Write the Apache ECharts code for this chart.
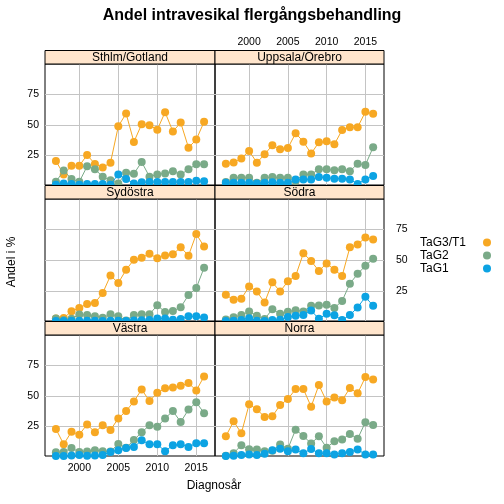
<!DOCTYPE html>
<html><head><meta charset="utf-8">
<script src="https://cdn.jsdelivr.net/npm/echarts@6/dist/echarts.min.js"></script>
<style>html,body{margin:0;padding:0;background:#fff}#c{width:504px;height:504px}</style>
</head><body><div id="c"></div>
<script>
// ---- data ----
const years = [1997,1998,1999,2000,2001,2002,2003,2004,2005,2006,2007,2008,2009,2010,2011,2012,2013,2014,2015,2016];
const regions = ['Sthlm/Gotland','Uppsala/Örebro','Sydöstra','Södra','Västra','Norra'];
const seriesNames = ['TaG3/T1','TaG2','TaG1'];
const xTickValues = [2000,2005,2010,2015];
const yTickValues = [25,50,75];

const tag3Sthlm   = [20.3,9.4,16.5,16.5,25.3,17.9,15.0,19.0,48.8,59.2,36.0,50.5,49.7,46.0,60.3,44.5,51.8,31.3,37.9,52.4];
const tag2Sthlm   = [3.3,12.5,5.7,3.3,16.0,13.6,7.5,4.6,2.0,10.8,10.0,19.5,7.5,9.4,10.2,11.9,9.2,13.5,17.6,17.6];
const tag1Sthlm   = [0.9,2.0,1.5,1.0,1.5,1.5,1.5,1.0,9.4,5.6,2.0,2.9,3.1,3.1,3.1,3.1,3.1,3.1,4.2,3.7];

const tag3Uppsala = [18.2,19.2,22.5,28.6,19.0,25.8,33.3,30.0,31.0,43.0,36.2,26.4,35.7,36.5,34.0,45.8,48.0,48.0,60.6,59.0];
const tag2Uppsala = [3.1,6.7,6.7,6.7,2.6,6.7,7.2,6.7,6.7,4.0,9.4,9.4,13.5,13.5,12.7,13.5,11.9,18.2,17.1,31.6];
const tag1Uppsala = [2.5,2.5,2.5,2.5,2.0,2.5,3.0,2.5,2.5,5.3,5.3,5.3,7.2,6.7,5.9,5.9,5.3,1.5,5.3,8.0];

const tag3Sydost  = [2.8,3.1,8.6,11.3,14.6,15.4,23.4,37.6,31.6,42.3,50.5,52.1,55.4,51.6,54.0,54.9,60.6,53.8,71.3,61.2];
const tag2Sydost  = [2.8,1.5,2.5,6.0,5.5,4.5,3.4,6.2,4.5,1.2,5.5,6.1,6.1,13.5,8.0,8.8,11.8,21.8,27.5,44.0];
const tag1Sydost  = [0.8,0.8,0.9,1.0,0.9,0.9,0.8,1.0,0.9,0.8,1.2,1.3,1.5,2.8,2.8,1.7,2.3,4.5,4.5,3.6];

const tag3Sodra   = [22.0,17.9,18.7,28.8,24.7,15.7,32.1,24.7,32.9,37.3,55.7,49.4,41.4,47.5,42.3,37.3,60.6,62.8,68.6,66.9];
const tag2Sodra   = [2.0,3.8,5.5,8.5,5.0,2.3,10.3,6.5,8.2,9.5,8.5,13.0,13.2,13.8,11.3,17.0,31.0,39.0,45.5,51.3];
const tag1Sodra   = [0.8,0.9,1.5,3.0,1.0,0.8,1.5,1.8,4.0,5.0,5.5,9.2,2.5,6.5,5.3,1.5,5.5,11.7,20.3,13.0];

const tag3Vastra  = [22.8,10.3,20.6,18.2,26.6,20.1,25.8,22.0,31.5,37.5,45.4,55.2,45.7,52.5,56.1,56.9,58.2,60.4,54.4,65.9];
const tag2Vastra  = [3.8,3.9,7.3,4.0,4.4,5.4,4.6,4.4,10.6,7.4,13.8,20.2,25.8,24.6,31.5,37.6,28.5,38.7,44.7,35.8];
const tag1Vastra  = [0.8,0.8,1.2,1.5,1.0,1.2,1.5,4.0,5.5,7.3,8.0,13.5,10.3,10.3,4.6,9.5,10.4,8.0,11.2,11.2];

const tag3Norra   = [16.8,29.1,19.3,43.0,38.9,32.7,33.2,42.4,47.3,55.5,55.5,41.1,58.8,45.4,48.7,46.3,56.3,52.0,65.3,63.4];
const tag2Norra   = [1.0,3.0,9.6,6.2,6.0,4.6,5.0,10.2,6.6,22.3,17.0,11.0,16.8,7.5,12.7,14.3,18.7,14.8,28.4,26.0];
const tag1Norra   = [0.8,1.0,1.5,2.0,1.5,2.5,5.5,6.7,4.5,6.0,3.0,6.5,3.0,3.0,2.0,3.0,4.0,6.0,2.0,2.0];

const panelData = [
  [tag3Sthlm, tag2Sthlm, tag1Sthlm],
  [tag3Uppsala, tag2Uppsala, tag1Uppsala],
  [tag3Sydost, tag2Sydost, tag1Sydost],
  [tag3Sodra, tag2Sodra, tag1Sodra],
  [tag3Vastra, tag2Vastra, tag1Vastra],
  [tag3Norra, tag2Norra, tag1Norra]
];

// ---- layout / style ----
const colors = ['#F7A823', '#7AAA88', '#0CA3E3'];
const FONT = 'Liberation Sans, Arial, sans-serif';
const colLeft = [45, 215], colWidth = [170, 169];
const rowTop = [64, 199, 335], rowHeight = [121, 122, 121];
const stripH = 13.5;

const grids = [], xAxes = [], yAxes = [], series = [], graphics = [];
for (let i = 0; i < 6; i++) {
  const r = Math.floor(i / 2), c = i % 2;
  grids.push({left: colLeft[c], top: rowTop[r], width: colWidth[c], height: rowHeight[r],
    show: true, borderColor: '#000', borderWidth: 1, backgroundColor: 'transparent', containLabel: false});
  const showBottomX = (r === 2 && c === 0);
  const showTopX = (r === 0 && c === 1);
  xAxes.push({type: 'value', gridIndex: i, min: 1995.6, max: 2017.4,
    position: showTopX ? 'top' : 'bottom',
    axisLine: {show: false},
    axisTick: {show: false, customValues: xTickValues},
    axisLabel: {show: showBottomX || showTopX, customValues: xTickValues,
      formatter: v => String(Math.round(v)),
      margin: showTopX ? 16 : 7, fontSize: 10.5, color: '#000', fontFamily: FONT},
    splitLine: {show: true, lineStyle: {color: '#C4C4C4', width: 1}}
  });
  const showLeftY = (c === 0 && r !== 1);
  const showRightY = (c === 1 && r === 1);
  yAxes.push({type: 'value', gridIndex: i, min: 0.7, max: 99.8,
    position: showRightY ? 'right' : 'left',
    axisLine: {show: false},
    axisTick: {show: false, customValues: yTickValues},
    axisLabel: {show: showLeftY || showRightY, customValues: yTickValues,
      formatter: v => String(Math.round(v)),
      margin: showRightY ? 12 : 6, fontSize: 10.5, color: '#000', fontFamily: FONT},
    splitLine: {show: true, lineStyle: {color: '#C4C4C4', width: 1}}
  });
  for (let s = 0; s < 3; s++) {
    series.push({type: 'line', name: seriesNames[s], xAxisIndex: i, yAxisIndex: i,
      data: years.map((y, k) => [y, panelData[i][s][k]]),
      symbol: 'circle', symbolSize: 8, showSymbol: true,
      itemStyle: {color: colors[s]}, lineStyle: {color: colors[s], width: 1},
      emphasis: {disabled: true}, animation: false, z: 2 + s, clip: true
    });
  }
  graphics.push({type: 'rect', shape: {x: colLeft[c], y: rowTop[r] - stripH, width: colWidth[c], height: stripH},
    style: {fill: '#FFE5CC', stroke: '#000', lineWidth: 1}, z: 10});
  graphics.push({type: 'text', x: colLeft[c] + colWidth[c] / 2, y: rowTop[r] - stripH / 2,
    style: {text: regions[i], font: '12px ' + FONT, fill: '#000', textAlign: 'center', textVerticalAlign: 'middle'}, z: 11});
}
graphics.push({type: 'text', x: 12, y: 262, rotation: Math.PI / 2,
  style: {text: 'Andel i %', font: '12px ' + FONT, fill: '#000', textAlign: 'center', textVerticalAlign: 'middle'}});
graphics.push({type: 'text', x: 214, y: 486,
  style: {text: 'Diagnosår', font: '12px ' + FONT, fill: '#000', textAlign: 'center', textVerticalAlign: 'middle'}});

const chart = echarts.init(document.getElementById('c'), null, {renderer: 'canvas'});
chart.setOption({
  animation: false,
  backgroundColor: '#fff',
  title: {text: 'Andel intravesikal flergångsbehandling', left: 'center', top: 3,
    textStyle: {fontSize: 16, fontWeight: 'bold', color: '#000', fontFamily: FONT}},
  legend: {data: seriesNames, orient: 'vertical', left: 415, top: 231, align: 'right',
    icon: 'circle', itemWidth: 8, itemHeight: 8, itemGap: 0,
    formatter: '{a|{name}}',
    textStyle: {fontSize: 12, lineHeight: 13, color: '#000', fontFamily: FONT,
      rich: {a: {width: 58, align: 'left', fontSize: 12, lineHeight: 13, color: '#000', fontFamily: FONT}}},
    selectedMode: false},
  grid: grids, xAxis: xAxes, yAxis: yAxes, series: series, graphic: graphics
});
</script></body></html>
